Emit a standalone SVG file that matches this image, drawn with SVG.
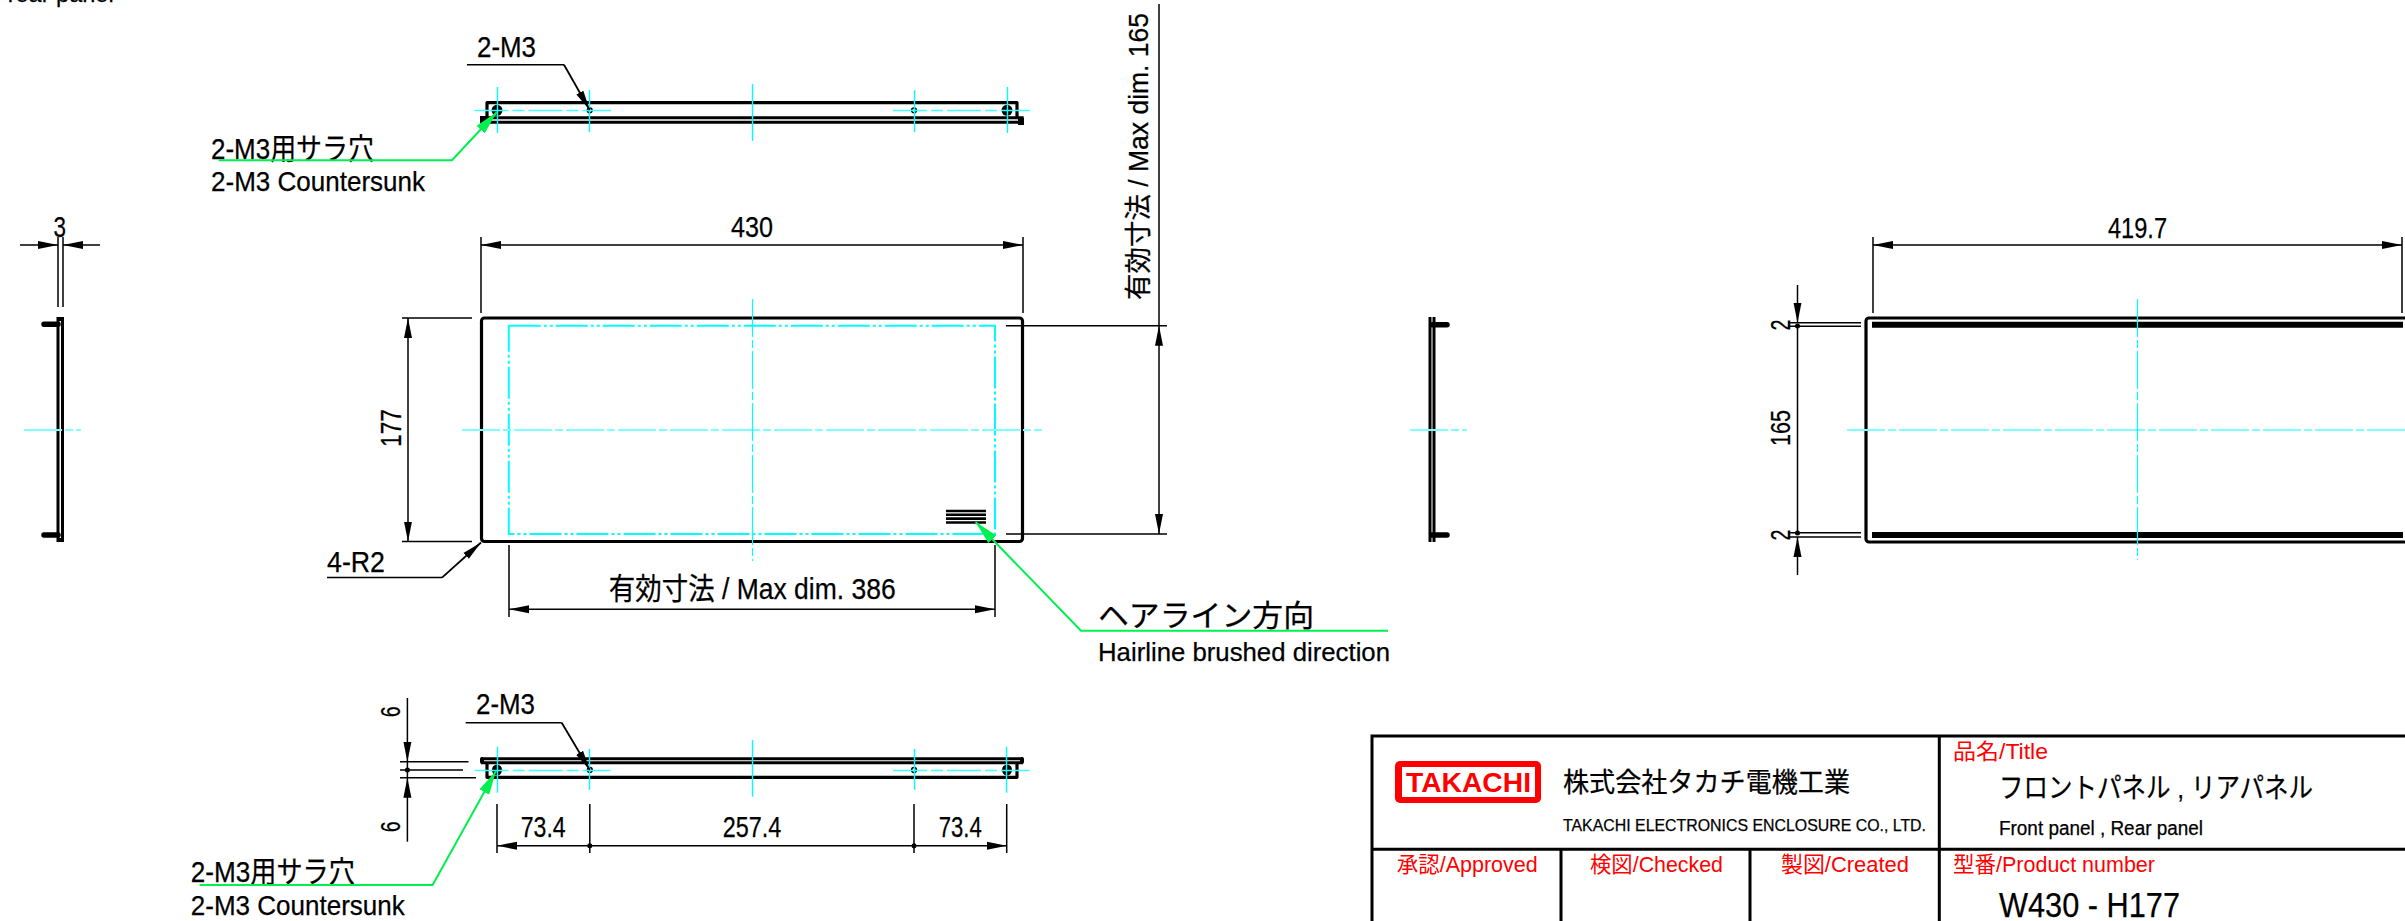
<svg xmlns="http://www.w3.org/2000/svg" width="2405" height="921" viewBox="0 0 2405 921" font-size="30">
<style>
text{font-family:"Liberation Sans","Noto Sans CJK JP",sans-serif;fill:#000;stroke:#000;stroke-width:.25}
text.r{fill:#f00;stroke:none}
.o{fill:none;stroke:#000;stroke-width:3.2;stroke-linejoin:round}
.t{fill:none;stroke:#000;stroke-width:1.5}
.l{fill:none;stroke:#000;stroke-width:1.8}
.g{fill:none;stroke:#00f050;stroke-width:2}
.c{fill:none;stroke:#00ffff;stroke-width:1.2;stroke-dasharray:38 3 8 3}
.h{fill:none;stroke:#80ffff;stroke-width:2.2;stroke-dasharray:38 3 8 3}
.cs{fill:none;stroke:#00ffff;stroke-width:1.4}
.ch{fill:none;stroke:#40ffff;stroke-width:1.6;stroke-dasharray:34 4 12 4}
.ir{fill:none;stroke:#00ffff;stroke-width:2;stroke-dasharray:32 3 3 3 3 3}
.b{stroke:#000;stroke-width:3;fill:none}
.f{fill:#000}
.da{marker-end:url(#a)}
.ga{marker-end:url(#ag)}
</style>
<defs>
<marker id="a" viewBox="-20 -5 20 10" refX="0" refY="0" markerWidth="20" markerHeight="10" markerUnits="userSpaceOnUse" orient="auto"><polygon points="0,0 -20,-4 -20,4" fill="#000"/></marker>
<marker id="ag" viewBox="-24 -6 24 12" refX="0" refY="0" markerWidth="24" markerHeight="12" markerUnits="userSpaceOnUse" orient="auto"><polygon points="0,0 -24,-5.5 -24,5.5" fill="#00f050"/></marker>
</defs>
<text x="7.7" y="1.5" font-size="24" textLength="106" lengthAdjust="spacingAndGlyphs">rear panel</text>

<g id="top-view">
<path class="o" d="M487 118V102.7H1017V118"/>
<path d="M480 117.7H1023.7M480 122.3H1023.7" class="b"/>
<rect x="480" y="116" width="7" height="7" class="f"/><rect x="1018" y="118" width="6" height="7" class="f"/>
<circle class="f" cx="497" cy="110.3" r="5.5"/><circle class="f" cx="1007" cy="110.3" r="5.5"/>
<circle class="t" cx="589.7" cy="110.3" r="2.4"/><circle class="t" cx="914" cy="110.3" r="2.4"/>
<path class="ch" d="M474.5 110.5H611M893 110.5H1030"/>
<path class="cs" d="M497.5 87V133M1007.5 87V133M589.5 90V132M914.5 90V132M752.5 84V141"/>
</g>
<g id="top-labels">
<text x="477" y="57" textLength="59" lengthAdjust="spacingAndGlyphs">2-M3</text>
<path class="t" d="M467 64.7H564"/><path class="l da" d="M564 64.7L589.7 110"/>
<text x="211" y="159" textLength="163" lengthAdjust="spacingAndGlyphs">2-M3用サラ穴</text>
<text x="211" y="190.6" font-size="28" textLength="214" lengthAdjust="spacingAndGlyphs">2-M3 Countersunk</text>
<path class="g ga" d="M218.6 160.3H452L497 112"/>
</g>

<g id="left-side-view">
<path class="b" d="M58 317V542M62.5 317V542"/>
<path d="M57 317h7v4h-7zM57 538h7v4h-7z" class="f"/>
<path d="M58 324.3H44M58 535H44" stroke="#000" stroke-width="5.5" stroke-linecap="round"/>
<path class="h" d="M24 430H81"/>
<path class="t" d="M58 237V307M63 237V307"/>
<path class="t da" d="M20 245H58"/><path class="t da" d="M100 245H63"/>
<text x="53.6" y="236.7" textLength="12.5" lengthAdjust="spacingAndGlyphs">3</text>
</g>

<g id="front-view">
<rect class="o" x="481.5" y="318" width="541" height="223.5" rx="3"/>
<rect class="ir" x="508.8" y="325.7" width="486.2" height="208.3"/>
<path class="h" d="M462 430H1042"/><path class="c" d="M752.5 299V561"/>
<path d="M946 511H986M946 514.8H986M946 518.6H986M946 522.5H986" stroke="#000" stroke-width="2.6"/>
</g>
<g id="front-dims">
<path class="t" d="M481 237V313M1023 237V313M402 318H472M402 541.5H472M1006 325.7H1167M1006 534H1167M509 545V617M995 545V617"/>
<path class="t da" d="M752 245H481"/><path class="t da" d="M752 245H1023"/>
<text x="731" y="237" textLength="42" lengthAdjust="spacingAndGlyphs">430</text>
<path class="t da" d="M408 430V318"/><path class="t da" d="M408 430V541.5"/>
<text transform="translate(401 428) rotate(-90)" text-anchor="middle" textLength="38" lengthAdjust="spacingAndGlyphs">177</text>
<path class="t" d="M1159 4V326"/><path class="t da" d="M1159 400V325.7"/><path class="t da" d="M1159 400V534"/>
<text transform="translate(1148 300) rotate(-90)" font-size="27" textLength="287" lengthAdjust="spacingAndGlyphs">有効寸法 / Max dim. 165</text>
<path class="t da" d="M752 609.3H509"/><path class="t da" d="M752 609.3H995"/>
<text x="608.7" y="599" textLength="287" lengthAdjust="spacingAndGlyphs">有効寸法 / Max dim. 386</text>
<text x="327" y="572" textLength="58" lengthAdjust="spacingAndGlyphs">4-R2</text>
<path class="t" d="M327 577.6H442"/><path class="l da" d="M442 577.6L481 542.5"/>
<path class="g ga" d="M1388 630.7H1081L975.6 522"/>
<text x="1098" y="626" textLength="216" lengthAdjust="spacingAndGlyphs">ヘアライン方向</text>
<text x="1098" y="661" font-size="26" textLength="292" lengthAdjust="spacingAndGlyphs">Hairline brushed direction</text>
</g>

<g id="bottom-view">
<path class="b" d="M481 758.7H1023M481 762.7H1023"/>
<rect x="480" y="757" width="4" height="7" rx="2" class="f"/><rect x="1020" y="757" width="4" height="7" rx="2" class="f"/>
<path class="o" d="M487 763V777.3H1017V763"/>
<ellipse class="f" cx="497" cy="770" rx="5" ry="5.5"/><ellipse class="f" cx="1007" cy="770" rx="5" ry="5.5"/>
<circle class="t" cx="589.8" cy="770" r="2.4"/><circle class="t" cx="914" cy="770" r="2.4"/>
<path class="ch" d="M474.7 770.5H610.5M893 770.5H1029.7"/>
<path class="cs" d="M497.5 746.7V792.7M1006.5 746.7V792.7M589.5 749V790M914.5 749V790M752.5 740V796.7"/>
</g>
<g id="bottom-dims">
<text x="476" y="714" textLength="59" lengthAdjust="spacingAndGlyphs">2-M3</text>
<path class="t" d="M465.7 722.7H561.7"/><path class="l da" d="M561.7 722.7L589.8 770"/>
<path class="t" d="M400 761.7H468.5M400 770H463M400 777.7H476"/>
<path class="t da" d="M407.4 698V761.7"/><path class="t da" d="M407.4 841.7V777.7"/>
<path class="t" d="M407.4 761.7V777.7"/><circle class="f" cx="407.4" cy="770" r="2.5"/>
<text transform="translate(400 711.7) rotate(-90)" text-anchor="middle" font-size="27" textLength="11" lengthAdjust="spacingAndGlyphs">6</text>
<text transform="translate(400 826.7) rotate(-90)" text-anchor="middle" font-size="27" textLength="11" lengthAdjust="spacingAndGlyphs">6</text>
<path class="t" d="M497 804V853M589.8 804V853M914 804V853M1006.7 804V853"/>
<path class="t da" d="M589.8 845.7H497"/><path class="t da" d="M914 845.7H1006.7"/><path class="t" d="M589.8 845.7H914"/>
<circle class="f" cx="589.8" cy="845.7" r="2.5"/><circle class="f" cx="914" cy="845.7" r="2.5"/>
<text x="520.7" y="837.3" textLength="45" lengthAdjust="spacingAndGlyphs">73.4</text>
<text x="722.7" y="837.3" textLength="58.5" lengthAdjust="spacingAndGlyphs">257.4</text>
<text x="938.8" y="837.3" textLength="43" lengthAdjust="spacingAndGlyphs">73.4</text>
<text x="190.8" y="882" textLength="164" lengthAdjust="spacingAndGlyphs">2-M3用サラ穴</text>
<text x="190.8" y="915" font-size="28" textLength="214" lengthAdjust="spacingAndGlyphs">2-M3 Countersunk</text>
<path class="g ga" d="M199.7 885H432.6L496 771"/>
</g>

<g id="rear-side-view">
<path class="b" d="M1430 317V542M1434 317V542"/>
<path d="M1432 324.7H1447M1432 535H1447" stroke="#000" stroke-width="5.5" stroke-linecap="round"/>
<path class="h" d="M1410 430H1467"/>
</g>

<g id="rear-view">
<path class="o" d="M2405 318H1869a3 3 0 0 0 -3 3V539a3 3 0 0 0 3 3H2405"/>
<path d="M1872 324.7H2403M1872 535H2403" stroke="#000" stroke-width="6"/>
<path class="h" d="M1847 430H2405"/><path class="c" d="M2137.5 299V560"/>
</g>
<g id="rear-dims">
<path class="t" d="M1873 237V313M2402 237V313M1788 322.7H1861M1788 326.3H1861M1788 532.7H1861M1788 537H1861"/>
<path class="t da" d="M2137 245H1873"/><path class="t da" d="M2137 245H2402"/>
<text x="2108" y="237.7" textLength="59" lengthAdjust="spacingAndGlyphs">419.7</text>
<path class="t da" d="M1797.5 285V322.7"/><path class="t" d="M1797.5 326V533"/><path class="t da" d="M1797.5 575V537"/>
<circle class="f" cx="1797.5" cy="326" r="2.5"/><circle class="f" cx="1797.5" cy="533" r="2.5"/>
<text transform="translate(1790 325) rotate(-90)" text-anchor="middle" font-size="27" textLength="11" lengthAdjust="spacingAndGlyphs">2</text>
<text transform="translate(1790 428) rotate(-90)" text-anchor="middle" font-size="27" textLength="36" lengthAdjust="spacingAndGlyphs">165</text>
<text transform="translate(1790 535) rotate(-90)" text-anchor="middle" font-size="27" textLength="11" lengthAdjust="spacingAndGlyphs">2</text>
</g>

<g id="title-block">
<path class="b" d="M1372 921V736H2405"/>
<path class="b" d="M1372 849.3H2405M1939.3 736V921M1561 849.3V921M1750 849.3V921"/>
<rect x="1395" y="761" width="146" height="42" rx="5" fill="#f00"/>
<rect x="1402" y="767" width="133" height="30" fill="#fff"/>
<text x="1406" y="792" class="r" font-size="27" font-weight="bold" textLength="125" lengthAdjust="spacingAndGlyphs">TAKACHI</text>
<text x="1563" y="792" font-size="27" textLength="287" lengthAdjust="spacingAndGlyphs">株式会社タカチ電機工業</text>
<text x="1563" y="831" font-size="17" textLength="363" lengthAdjust="spacingAndGlyphs">TAKACHI ELECTRONICS ENCLOSURE CO., LTD.</text>
<text x="1953" y="759" class="r" font-size="22" textLength="95" lengthAdjust="spacingAndGlyphs">品名/Title</text>
<text x="1999" y="798" font-size="28" textLength="314" lengthAdjust="spacingAndGlyphs">フロントパネル , リアパネル</text>
<text x="1999" y="835" font-size="20" textLength="204" lengthAdjust="spacingAndGlyphs">Front panel , Rear panel</text>
<text x="1396.7" y="872" class="r" font-size="22" textLength="141" lengthAdjust="spacingAndGlyphs">承認/Approved</text>
<text x="1590" y="872" class="r" font-size="22" textLength="133" lengthAdjust="spacingAndGlyphs">検図/Checked</text>
<text x="1781" y="872" class="r" font-size="22" textLength="128" lengthAdjust="spacingAndGlyphs">製図/Created</text>
<text x="1953" y="872" class="r" font-size="22" textLength="202" lengthAdjust="spacingAndGlyphs">型番/Product number</text>
<text x="1999" y="916.7" font-size="35" textLength="181" lengthAdjust="spacingAndGlyphs">W430 - H177</text>
</g>
</svg>
